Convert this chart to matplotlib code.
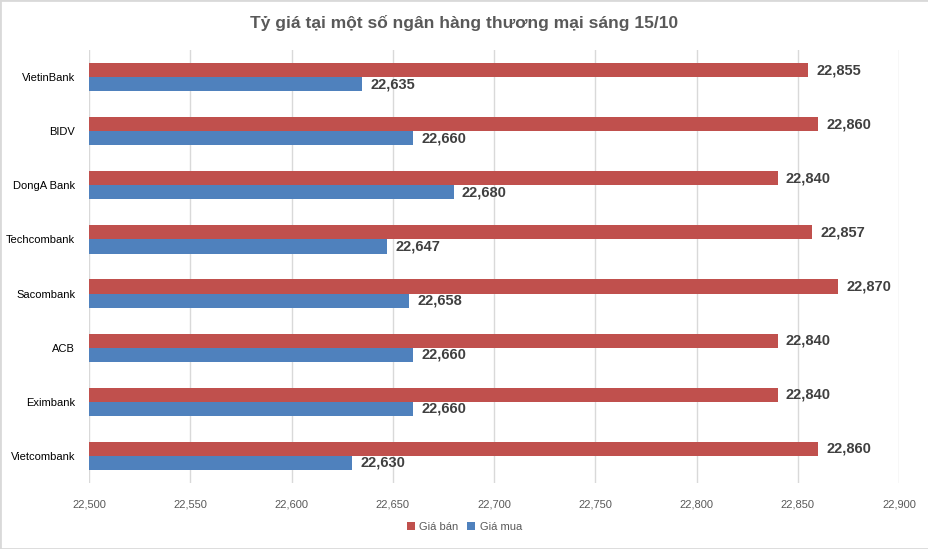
import matplotlib
matplotlib.use("Agg")
import matplotlib.pyplot as plt
from matplotlib.patches import Rectangle

plt.rcParams['font.family'] = ['Liberation Sans', 'DejaVu Sans']

banks = ["VietinBank", "BIDV", "DongA Bank", "Techcombank", "Sacombank", "ACB", "Eximbank", "Vietcombank"]
gia_ban = [22855, 22860, 22840, 22857, 22870, 22840, 22840, 22860]
gia_mua = [22635, 22660, 22680, 22647, 22658, 22660, 22660, 22630]
title = "Tỷ giá tại một số ngân hàng thương mại sáng 15/10"
xticks = [22500, 22550, 22600, 22650, 22700, 22750, 22800, 22850, 22900]

red = "#c0504d"
blue = "#4f81bd"

fig = plt.figure(figsize=(9.29, 5.49), dpi=100)
ax = fig.add_axes([89/929, 1-483/549, 810/929, 433/549])

y = list(range(len(banks)))
h = 0.26
ax.barh([i - h/2 for i in y], gia_ban, height=h, color=red, label="Giá bán", zorder=2)
ax.barh([i + h/2 for i in y], gia_mua, height=h, color=blue, label="Giá mua", zorder=2)

for i in y:
    ax.annotate(f"{gia_ban[i]:,}", (gia_ban[i], i - h/2), xytext=(6, 0), textcoords="offset points",
                va="center", ha="left", fontsize=10.5, fontweight="bold", color="#404040")
    ax.annotate(f"{gia_mua[i]:,}", (gia_mua[i], i + h/2), xytext=(6, 0), textcoords="offset points",
                va="center", ha="left", fontsize=10.5, fontweight="bold", color="#404040")

ax.set_xlim(22500, 22900)
ax.set_ylim(len(banks) - 0.5, -0.5)
ax.set_xticks(xticks)
ax.set_xticklabels([f"{v:,}" for v in xticks])
ax.set_yticks(y)
ax.set_yticklabels(banks)
ax.tick_params(axis='both', length=0, labelsize=8, colors="#595959")
ax.tick_params(axis='x', pad=12)
ax.tick_params(axis='y', pad=10)
for lab in ax.get_yticklabels():
    lab.set_color("#000000")
ax.grid(axis='x', color="#d9d9d9", linewidth=1, zorder=0)
for s in ax.spines.values():
    s.set_visible(False)

fig.text(0.5, 1-23/549, title, ha="center", va="center", fontsize=12.5, fontweight="bold", color="#595959")

leg = fig.legend(loc="center", bbox_to_anchor=(0.5, 1-527/549), ncol=2, frameon=False,
                 fontsize=8, handlelength=0.7, handleheight=0.7, handletextpad=0.4, columnspacing=0.8)
for t in leg.get_texts():
    t.set_color("#595959")

fig.patches.append(Rectangle((0, 0), 1, 1, transform=fig.transFigure, fill=False,
                             edgecolor="#d9d9d9", linewidth=2))

fig.savefig("out.png", dpi=100)
